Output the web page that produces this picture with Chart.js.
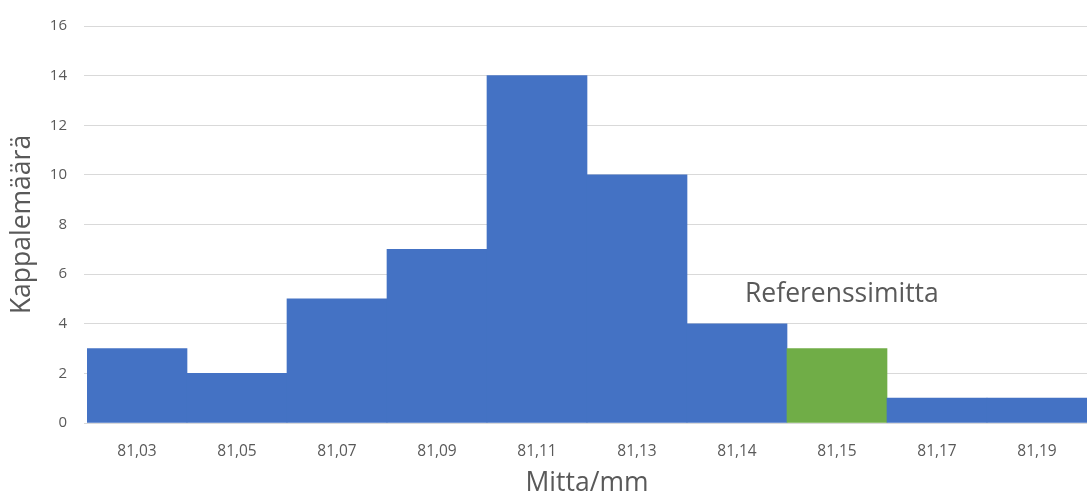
<!DOCTYPE html>
<html>
<head>
<meta charset="utf-8">
<script src="https://cdn.jsdelivr.net/npm/chart.js@4.4.0/dist/chart.umd.min.js"></script>
<style>
  html, body { margin: 0; padding: 0; background: #ffffff; }
  #wrap { width: 1088px; height: 497px; position: relative; }
</style>
</head>
<body>
<div id="wrap"><canvas id="c" width="1088" height="497"></canvas></div>
<script>
const categories = ['81,03', '81,05', '81,07', '81,09', '81,11', '81,13', '81,14', '81,15', '81,17', '81,19'];
const counts = [3, 2, 5, 7, 14, 10, 4, 3, 1, 1];
const referenceIndex = 7;
const referenceLabel = 'Referenssimitta';
const yTicks = [0, 2, 4, 6, 8, 10, 12, 14, 16];
const xTitle = 'Mitta/mm';
const yTitle = 'Kappalemäärä';

const blue = '#4472C4';
const green = '#70AD47';
const textColor = '#595959';
const font = '"Open Sans", "Noto Sans", sans-serif';

const annotationPlugin = {
  id: 'refLabel',
  afterDatasetsDraw(chart) {
    const ctx = chart.ctx;
    const xs = chart.scales.x, ys = chart.scales.y;
    const x = xs.getPixelForValue(referenceIndex - 1) + 8;
    const y = ys.getPixelForValue(5.2);
    ctx.save();
    ctx.font = '26.5px ' + font;
    ctx.fillStyle = textColor;
    ctx.textAlign = 'left';
    ctx.textBaseline = 'middle';
    ctx.fillText(referenceLabel, x, y);
    ctx.restore();
  }
};

new Chart(document.getElementById('c'), {
  type: 'bar',
  data: {
    labels: categories,
    datasets: [{
      data: counts,
      backgroundColor: counts.map((v, i) => i === referenceIndex ? green : blue),
      borderWidth: 0,
      categoryPercentage: 1.0,
      barPercentage: 1.0
    }]
  },
  options: {
    responsive: false,
    animation: false,
    devicePixelRatio: 1,
    layout: { padding: { top: 23, right: 1, left: 0, bottom: 0 } },
    plugins: { legend: { display: false }, tooltip: { enabled: false } },
    scales: {
      x: {
        grid: { display: false },
        border: { display: false },
        ticks: { color: textColor, font: { family: font, size: 15.5 }, padding: 11, maxRotation: 0 },
        title: { display: true, text: xTitle, color: textColor, font: { family: font, size: 26.5, lineHeight: 1.0 }, padding: { top: 0, bottom: 0 } },
        afterFit(s) { s.height = 74; }
      },
      y: {
        min: 0, max: 16,
        afterBuildTicks(s) { s.ticks = yTicks.map(v => ({ value: v })); },
        grid: { color: '#d9d9d9', lineWidth: 1, drawTicks: true, tickLength: 3, tickColor: '#d9d9d9' },
        border: { display: false },
        ticks: { color: textColor, font: { family: font, size: 15 }, padding: 17 },
        title: { display: true, text: yTitle, color: textColor, font: { family: font, size: 26.5, lineHeight: 1.0 }, padding: { top: 9, bottom: 0 } },
        afterFit(s) { s.width = 87; }
      }
    }
  },
  plugins: [annotationPlugin]
});
</script>
</body>
</html>
